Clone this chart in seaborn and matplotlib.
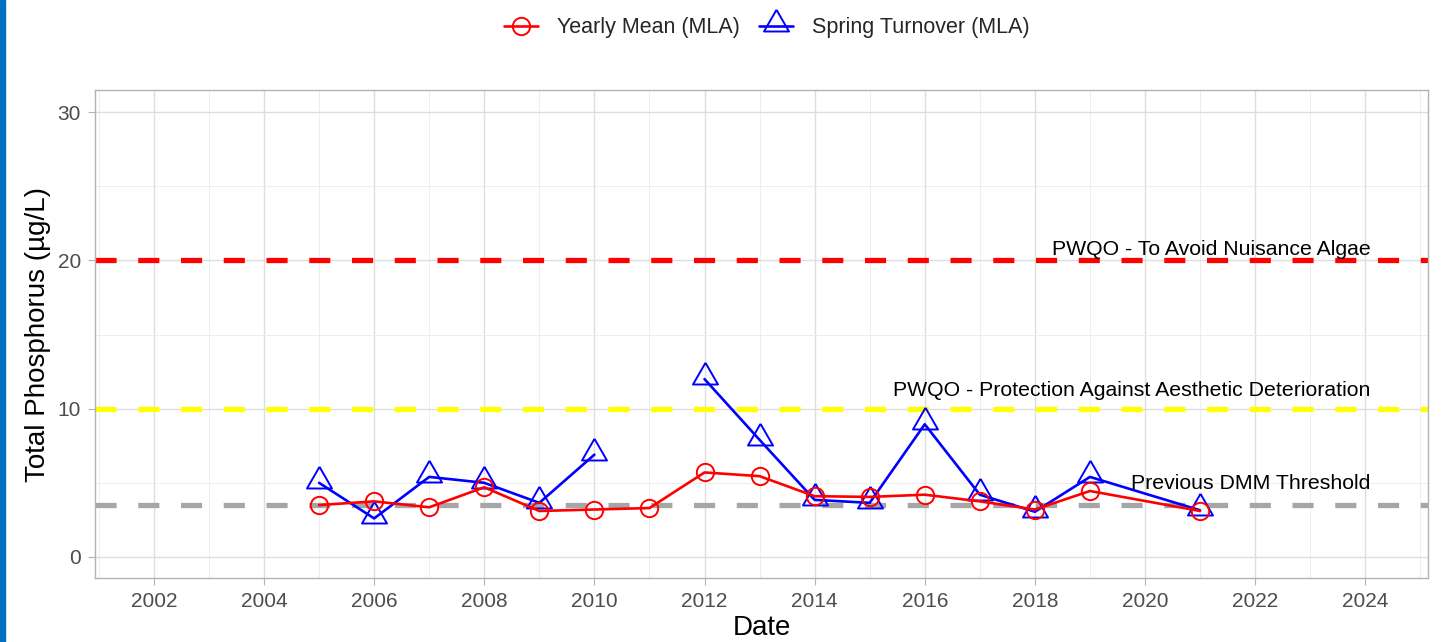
import seaborn as sns
import matplotlib.pyplot as plt
import matplotlib.patches as mpatches
from matplotlib.ticker import MultipleLocator
import pandas as pd

# yearly mean total phosphorus (MLA)
mean_years = [2005, 2006, 2007, 2008, 2009, 2010, 2011, 2012, 2013,
              2014, 2015, 2016, 2017, 2018, 2019, 2021]
mean_tp = [3.5, 3.75, 3.35, 4.7, 3.1, 3.2, 3.3, 5.7, 5.45,
           4.1, 4.05, 4.2, 3.75, 3.2, 4.45, 3.1]

# spring turnover total phosphorus (MLA), no 2011 sample
spring_years = [2005, 2006, 2007, 2008, 2009, 2010,
                2012, 2013, 2014, 2015, 2016, 2017, 2018, 2019, 2021]
spring_tp = [5.0, 2.6, 5.4, 5.0, 3.65, 6.9,
             12.0, 7.9, 3.85, 3.65, 8.95, 4.2, 3.05, 5.4, 3.15]
spring_seg = [1, 1, 1, 1, 1, 1, 2, 2, 2, 2, 2, 2, 2, 2, 2]

thresholds = [20, 10, 3.5]
threshold_labels = ['PWQO - To Avoid Nuisance Algae',
                    'PWQO - Protection Against Aesthetic Deterioration',
                    'Previous DMM Threshold']
threshold_colors = ['#FF0000', '#FFFF00', '#A6A6A6']

mean_df = pd.DataFrame({'year': mean_years, 'tp': mean_tp})
spring_df = pd.DataFrame({'year': spring_years, 'tp': spring_tp, 'seg': spring_seg})

sns.set_theme(style="whitegrid")
plt.rcParams['font.family'] = ['Liberation Sans', 'DejaVu Sans']

fig = plt.figure(figsize=(14.42, 6.42), dpi=100)
ax = fig.add_axes([95/1442, 1-578/642, (1428-95)/1442, (578-90)/642])

# thresholds
for val, col in zip(thresholds, threshold_colors):
    ax.axhline(val, color=col, lw=3.8, dashes=(4.0, 4.1), zorder=2)

# ggplot-ish triangle: point sits low in the shape
tri = [(0, 1.0), (-0.75, -0.3), (0.75, -0.3), (0, 1.0)]

sns.lineplot(data=spring_df, x='year', y='tp', units='seg', estimator=None,
             color='#0000FF', lw=1.9, marker=tri, ms=24, mfc='none',
             mec='#0000FF', mew=1.4, label='Spring Turnover (MLA)', ax=ax, zorder=3)
sns.lineplot(data=mean_df, x='year', y='tp', color='#FF0000', lw=1.9,
             marker='o', ms=12.5, mfc='none', mec='#FF0000', mew=1.4,
             label='Yearly Mean (MLA)', ax=ax, zorder=4)

# threshold labels
label_y = [20.36, 10.86, 4.59]
for ly, txt in zip(label_y, threshold_labels):
    ax.text(2024.1, ly, txt, ha='right', va='baseline', fontsize=15.3, color='black', zorder=5)

ax.set_xlim(2000.93, 2025.14)
ax.set_ylim(-1.42, 31.5)
ax.xaxis.set_major_locator(MultipleLocator(2))
ax.xaxis.set_minor_locator(MultipleLocator(1))
ax.yaxis.set_major_locator(MultipleLocator(10))
ax.yaxis.set_minor_locator(MultipleLocator(5))
ax.grid(which='major', color='#DEDEDE', lw=1.0)
ax.grid(which='minor', color='#EBEBEB', lw=0.6)
for s in ax.spines.values():
    s.set_color('#B3B3B3')
    s.set_linewidth(1.0)
ax.tick_params(axis='both', which='major', length=5, width=0.8, color='#B3B3B3',
               labelsize=15, labelcolor='#4D4D4D', pad=5, bottom=True, left=True)
ax.tick_params(which='minor', length=0)

ax.set_xlabel('Date', fontsize=20, color='black', labelpad=3)
ax.set_ylabel('Total Phosphorus (µg/L)', fontsize=20, color='black', labelpad=5)

# legend on top, circle entry first
handles, labels = ax.get_legend_handles_labels()
uniq = dict(zip(labels, handles))
ax.get_legend().remove()
order = ['Yearly Mean (MLA)', 'Spring Turnover (MLA)']
fig.legend([uniq[k] for k in order], order, loc='center', ncol=2,
           bbox_to_anchor=(767/1442, 1-28/642), frameon=False, fontsize=15.5,
           handlelength=1.55, columnspacing=0.9, handletextpad=0.9)

# blue page edge on the left
fig.patches.append(mpatches.Rectangle((0, 0), 5/1442, 1, transform=fig.transFigure,
                                      color='#0070C0', zorder=0))

fig.savefig('out.png', dpi=100)
